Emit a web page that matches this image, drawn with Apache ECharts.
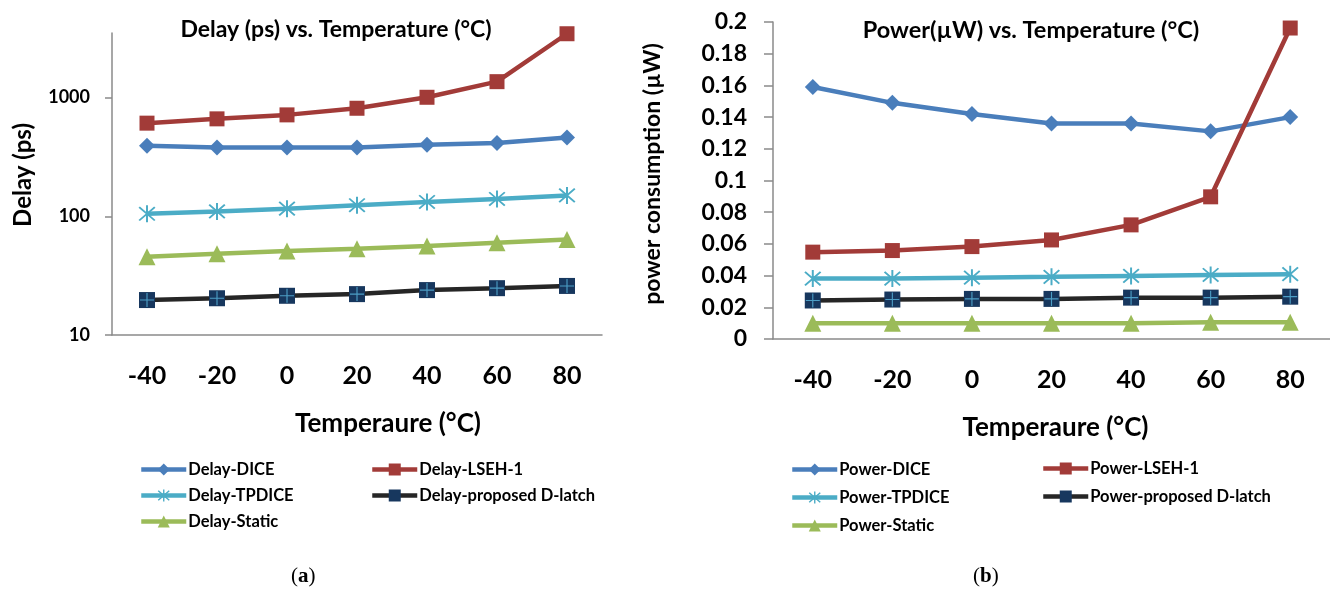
<!DOCTYPE html>
<html>
<head>
<meta charset="utf-8">
<title>Delay and power vs. temperature</title>
<script src="https://cdn.jsdelivr.net/npm/echarts@6/dist/echarts.min.js"></script>
<style>
  html, body { margin: 0; padding: 0; background: #ffffff; }
  #chart { width: 1330px; height: 595px; }
</style>
</head>
<body>
<div id="chart"></div>
<script>
// Temperatures (°C) shared by both panels
const temperatures = ['-40', '-20', '0', '20', '40', '60', '80'];

// Panel (a): delay in ps (log scale)
const delayDICE     = [393, 380, 380, 380, 401, 414, 462];
const delayLSEH1    = [609, 662, 715, 813, 1006, 1362, 3450];
const delayTPDICE   = [105, 110, 116, 124, 132, 140, 150];
const delayProposed = [19.7, 20.4, 21.4, 22.1, 23.9, 24.8, 25.9];
const delayStatic   = [45.7, 48.4, 51, 53.4, 56.2, 59.9, 63.9];
const delayTicks    = [10, 100, 1000];

// Panel (b): power consumption in µW
const powerDICE     = [0.159, 0.149, 0.142, 0.136, 0.136, 0.131, 0.140];
const powerLSEH1    = [0.0548, 0.0558, 0.0583, 0.0625, 0.0720, 0.0897, 0.1962];
const powerTPDICE   = [0.0381, 0.0381, 0.0387, 0.0392, 0.0398, 0.0404, 0.0409];
const powerProposed = [0.0243, 0.0249, 0.0253, 0.0253, 0.0261, 0.0261, 0.0267];
const powerStatic   = [0.0099, 0.0099, 0.0099, 0.0099, 0.0099, 0.0105, 0.0106];

const FONT = 'Lato';
const AXIS_GREY = '#8a8a8a';
const LINE_W = 4.5;

const COLORS = {
  dice: '#4a7ebb',
  lseh: '#a23b38',
  tpdice: '#4bacc6',
  stat: '#9bbb59',
  propLine: '#262626',
  propMark: '#17375e',
  plus: '#5ab8e0'
};

// Asterisk marker: vertical bar plus two diagonals
const ASTERISK = 'path://M9 0L11 0L11 20L9 20Z M1.4 2.8L2.8 1.4L18.6 17.2L17.2 18.6Z M17.2 1.4L18.6 2.8L2.8 18.6L1.4 17.2Z';
// Thin cross drawn over the navy squares
const PLUS = 'path://M9.2 0L10.8 0L10.8 20L9.2 20Z M0 9.2L20 9.2L20 10.8L0 10.8Z';

function lineSeries(name, data, color, symbol, size, axisIdx, extra) {
  return Object.assign({
    name: name,
    type: 'line',
    xAxisIndex: axisIdx,
    yAxisIndex: axisIdx,
    data: data,
    symbol: symbol,
    symbolSize: size,
    showAllSymbol: true,
    lineStyle: { color: color, width: LINE_W },
    itemStyle: { color: color, borderWidth: 0 },
    emphasis: { disabled: true },
    animation: false,
    z: 3
  }, extra || {});
}

function plusOverlay(data, axisIdx) {
  return {
    type: 'scatter',
    xAxisIndex: axisIdx,
    yAxisIndex: axisIdx,
    data: data,
    symbol: PLUS,
    symbolSize: 14,
    itemStyle: { color: COLORS.plus },
    emphasis: { disabled: true },
    silent: true,
    animation: false,
    z: 5
  };
}

const axisLineStyle = { show: true, lineStyle: { color: AXIS_GREY, width: 1.5 } };
const boldText = { fontFamily: FONT, fontWeight: 'bold', color: '#000' };

function categoryAxis(gridIndex, namePad) {
  return {
    type: 'category',
    gridIndex: gridIndex,
    data: temperatures,
    boundaryGap: true,
    axisLine: axisLineStyle,
    axisTick: { show: false },
    axisLabel: Object.assign({ margin: 28, fontSize: 25 }, boldText),
    name: 'Temperaure (°C)',
    nameLocation: 'middle',
    nameGap: 76,
    nameTextStyle: Object.assign({ fontSize: 26, padding: namePad }, boldText),
    splitLine: { show: false }
  };
}

function legendCol(left, top, names, gap) {
  return {
    left: left,
    top: top,
    orient: 'vertical',
    itemWidth: 45,
    itemHeight: 15,
    itemGap: gap,
    data: names,
    selectedMode: false,
    lineStyle: { width: LINE_W },
    textStyle: Object.assign({ fontSize: 16.5, padding: [0, 0, 0, -3] }, boldText)
  };
}

// Rotated value-axis titles
function sideTitle(text, x, y, size) {
  return {
    type: 'text',
    x: x, y: y,
    rotation: Math.PI / 2,
    style: Object.assign({ text: text, fontSize: size, align: 'center', verticalAlign: 'middle', fill: '#000' },
      { fontFamily: FONT, fontWeight: 'bold' })
  };
}

const option = {
  backgroundColor: '#ffffff',
  animation: false,
  title: [
    {
      text: 'Delay (ps) vs. Temperature (°C)',
      left: 331, top: 13, textAlign: 'center',
      textStyle: Object.assign({ fontSize: 23 }, boldText)
    },
    {
      text: 'Power(µW) vs. Temperature (°C)',
      left: 1026, top: 13, textAlign: 'center',
      textStyle: Object.assign({ fontSize: 23.5 }, boldText)
    }
  ],
  grid: [
    { left: 112, top: 33, width: 490, height: 302 },
    { left: 773, top: 22, width: 557, height: 317 }
  ],
  xAxis: [
    categoryAxis(0, [0, 0, 0, 62]),
    categoryAxis(1, [0, 0, 0, 8])
  ],
  yAxis: [
    {
      type: 'log',
      gridIndex: 0,
      logBase: 10,
      min: 10,
      max: 3500,
      axisLine: axisLineStyle,
      axisTick: { show: true, length: 7, lineStyle: { color: AXIS_GREY, width: 1.5 }, customValues: delayTicks },
      axisLabel: Object.assign({
        margin: 22, fontSize: 18, customValues: delayTicks,
        formatter: function (v) { return String(Math.round(v)); }
      }, boldText),
      splitLine: { show: false }
    },
    {
      type: 'value',
      gridIndex: 1,
      min: 0,
      max: 0.2,
      interval: 0.02,
      axisLine: axisLineStyle,
      axisTick: { show: true, length: 9, lineStyle: { color: AXIS_GREY, width: 1.5 } },
      axisLabel: Object.assign({
        margin: 26, fontSize: 23,
        formatter: function (v) { return String(+v.toFixed(2)); }
      }, boldText),
      splitLine: { show: false }
    }
  ],
  legend: [
    legendCol(134, 456, ['Delay-DICE', 'Delay-TPDICE', 'Delay-Static'], 9),
    legendCol(365, 456, ['Delay-LSEH-1', 'Delay-proposed D-latch'], 9),
    legendCol(785, 456, ['Power-DICE', 'Power-TPDICE', 'Power-Static'], 11),
    legendCol(1036, 455, ['Power-LSEH-1', 'Power-proposed D-latch'], 11)
  ],
  series: [
    lineSeries('Delay-DICE', delayDICE, COLORS.dice, 'diamond', 16, 0),
    lineSeries('Delay-LSEH-1', delayLSEH1, COLORS.lseh, 'rect', 15, 0),
    lineSeries('Delay-TPDICE', delayTPDICE, COLORS.tpdice, ASTERISK, 17, 0),
    lineSeries('Delay-proposed D-latch', delayProposed, COLORS.propLine, 'rect', 16, 0,
      { itemStyle: { color: COLORS.propMark } }),
    lineSeries('Delay-Static', delayStatic, COLORS.stat, 'triangle', 17, 0),
    plusOverlay(delayProposed, 0),

    lineSeries('Power-DICE', powerDICE, COLORS.dice, 'diamond', 16, 1),
    lineSeries('Power-LSEH-1', powerLSEH1, COLORS.lseh, 'rect', 15, 1),
    lineSeries('Power-TPDICE', powerTPDICE, COLORS.tpdice, ASTERISK, 17, 1),
    lineSeries('Power-proposed D-latch', powerProposed, COLORS.propLine, 'rect', 16, 1,
      { itemStyle: { color: COLORS.propMark } }),
    lineSeries('Power-Static', powerStatic, COLORS.stat, 'triangle', 17, 1),
    plusOverlay(powerProposed, 1)
  ],
  graphic: [
    sideTitle('Delay (ps)', 23, 175, 24),
    sideTitle('power consumption (µW)', 653, 174, 23),
    {
      type: 'text', left: 291, top: 566,
      style: {
        text: '({a|a})', fontFamily: 'Liberation Serif', fontSize: 21, fill: '#000',
        rich: { a: { fontFamily: 'Liberation Serif', fontWeight: 'bold', fontSize: 21 } }
      }
    },
    {
      type: 'text', left: 973, top: 566,
      style: {
        text: '({b|b})', fontFamily: 'Liberation Serif', fontSize: 21, fill: '#000',
        rich: { b: { fontFamily: 'Liberation Serif', fontWeight: 'bold', fontSize: 21 } }
      }
    }
  ]
};

const chart = echarts.init(document.getElementById('chart'), null, { renderer: 'canvas' });
chart.setOption(option);
</script>
</body>
</html>
